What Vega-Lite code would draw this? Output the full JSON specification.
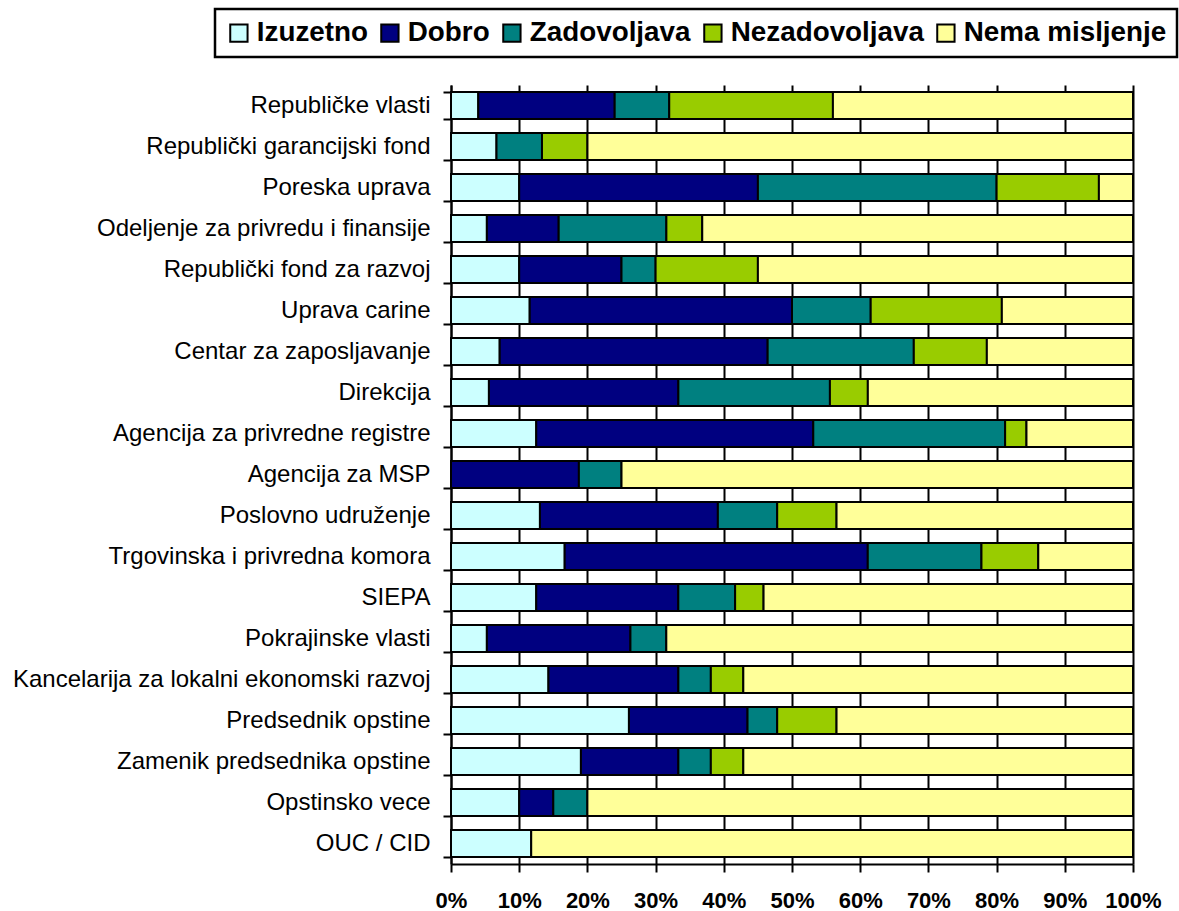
{
  "$schema": "https://vega.github.io/schema/vega-lite/v6.json",
  "autosize": {"type": "none"},
  "width": 682,
  "height": 779,
  "padding": {"left": 451, "top": 85, "right": 46, "bottom": 47},
  "background": "white",
  "datasets": {
    "ord": [
      {"r": "Izuzetno", "k": 1},
      {"r": "Dobro", "k": 2},
      {"r": "Zadovoljava", "k": 3},
      {"r": "Nezadovoljava", "k": 4},
      {"r": "Nema misljenje", "k": 5}
    ]
  },
  "data": {
    "values": [
      {"n": "Republičke vlasti", "Izuzetno": 4, "Dobro": 20, "Zadovoljava": 8, "Nezadovoljava": 24, "Nema misljenje": 44},
      {"n": "Republički garancijski fond", "Izuzetno": 6.67, "Dobro": 0, "Zadovoljava": 6.67, "Nezadovoljava": 6.67, "Nema misljenje": 80},
      {"n": "Poreska uprava", "Izuzetno": 10, "Dobro": 35, "Zadovoljava": 35, "Nezadovoljava": 15, "Nema misljenje": 5},
      {"n": "Odeljenje za privredu i finansije", "Izuzetno": 5.26, "Dobro": 10.53, "Zadovoljava": 15.79, "Nezadovoljava": 5.26, "Nema misljenje": 63.16},
      {"n": "Republički fond za razvoj", "Izuzetno": 10, "Dobro": 15, "Zadovoljava": 5, "Nezadovoljava": 15, "Nema misljenje": 55},
      {"n": "Uprava carine", "Izuzetno": 11.54, "Dobro": 38.46, "Zadovoljava": 11.54, "Nezadovoljava": 19.23, "Nema misljenje": 19.23},
      {"n": "Centar za zaposljavanje", "Izuzetno": 7.14, "Dobro": 39.29, "Zadovoljava": 21.43, "Nezadovoljava": 10.71, "Nema misljenje": 21.43},
      {"n": "Direkcija", "Izuzetno": 5.56, "Dobro": 27.78, "Zadovoljava": 22.22, "Nezadovoljava": 5.56, "Nema misljenje": 38.88},
      {"n": "Agencija za privredne registre", "Izuzetno": 12.5, "Dobro": 40.62, "Zadovoljava": 28.13, "Nezadovoljava": 3.13, "Nema misljenje": 15.62},
      {"n": "Agencija za MSP", "Izuzetno": 0, "Dobro": 18.75, "Zadovoljava": 6.25, "Nezadovoljava": 0, "Nema misljenje": 75},
      {"n": "Poslovno udruženje", "Izuzetno": 13.04, "Dobro": 26.09, "Zadovoljava": 8.7, "Nezadovoljava": 8.7, "Nema misljenje": 43.47},
      {"n": "Trgovinska i privredna komora", "Izuzetno": 16.67, "Dobro": 44.44, "Zadovoljava": 16.67, "Nezadovoljava": 8.33, "Nema misljenje": 13.89},
      {"n": "SIEPA", "Izuzetno": 12.5, "Dobro": 20.83, "Zadovoljava": 8.33, "Nezadovoljava": 4.17, "Nema misljenje": 54.17},
      {"n": "Pokrajinske vlasti", "Izuzetno": 5.26, "Dobro": 21.05, "Zadovoljava": 5.26, "Nezadovoljava": 0, "Nema misljenje": 68.43},
      {"n": "Kancelarija za lokalni ekonomski razvoj", "Izuzetno": 14.29, "Dobro": 19.05, "Zadovoljava": 4.76, "Nezadovoljava": 4.76, "Nema misljenje": 57.14},
      {"n": "Predsednik opstine", "Izuzetno": 26.09, "Dobro": 17.39, "Zadovoljava": 4.35, "Nezadovoljava": 8.7, "Nema misljenje": 43.47},
      {"n": "Zamenik predsednika opstine", "Izuzetno": 19.05, "Dobro": 14.29, "Zadovoljava": 4.76, "Nezadovoljava": 4.76, "Nema misljenje": 57.14},
      {"n": "Opstinsko vece", "Izuzetno": 10, "Dobro": 5, "Zadovoljava": 5, "Nezadovoljava": 0, "Nema misljenje": 80},
      {"n": "OUC / CID", "Izuzetno": 11.76, "Dobro": 0, "Zadovoljava": 0, "Nezadovoljava": 0, "Nema misljenje": 88.24}
    ]
  },
  "transform": [
    {"fold": ["Izuzetno", "Dobro", "Zadovoljava", "Nezadovoljava", "Nema misljenje"], "as": ["r", "v"]},
    {"filter": "datum.v > 0"},
    {"lookup": "r", "from": {"data": {"name": "ord"}, "key": "r", "fields": ["k"]}}
  ],
  "mark": {"type": "bar", "stroke": "black", "strokeWidth": 2, "strokeJoin": "miter"},
  "encoding": {
    "y": {
      "field": "n",
      "type": "nominal",
      "sort": null,
      "scale": {"paddingInner": 0.34, "paddingOuter": 0.17},
      "axis": {
        "title": null,
        "tickBand": "extent",
        "tickSize": 8,
        "tickWidth": 2,
        "tickColor": "black",
        "domainColor": "black",
        "domainWidth": 2,
        "labelFont": "Liberation Sans",
        "labelFontSize": 24,
        "labelColor": "black",
        "labelPadding": 13,
        "labelLimit": 500,
        "grid": false
      }
    },
    "x": {
      "field": "v",
      "type": "quantitative",
      "stack": "zero",
      "scale": {"domain": [0, 100], "nice": false, "clamp": true},
      "axis": {
        "title": null,
        "values": [0, 10, 20, 30, 40, 50, 60, 70, 80, 90, 100],
        "labelExpr": "datum.value + '%'",
        "grid": true,
        "gridColor": "black",
        "gridWidth": 2,
        "gridOpacity": 1,
        "tickSize": 8,
        "tickWidth": 2,
        "tickColor": "black",
        "domainColor": "black",
        "domainWidth": 2,
        "labelFont": "Liberation Sans",
        "labelFontSize": 22,
        "labelFontWeight": "bold",
        "labelColor": "black",
        "labelPadding": 18,
        "labelFlush": false,
        "labelOverlap": false
      }
    },
    "order": {"field": "k", "type": "quantitative", "sort": "ascending"},
    "color": {
      "field": "r",
      "type": "nominal",
      "scale": {
        "domain": ["Izuzetno", "Dobro", "Zadovoljava", "Nezadovoljava", "Nema misljenje"],
        "range": ["#CCFFFF", "#000080", "#008080", "#99CC00", "#FFFF99"]
      },
      "legend": {
        "title": null,
        "orient": "none",
        "legendX": -236,
        "legendY": -76,
        "direction": "horizontal",
        "columns": 5,
        "padding": 10,
        "strokeColor": "black",
        "symbolType": "square",
        "symbolSize": 300,
        "symbolStrokeColor": "black",
        "symbolStrokeWidth": 2,
        "symbolOpacity": 1,
        "labelFont": "Liberation Sans",
        "labelFontSize": 27.8,
        "labelFontWeight": "bold",
        "labelColor": "black",
        "labelOffset": 4,
        "labelLimit": 400,
        "columnPadding": 8,
        "encode": {"legend": {"update": {"strokeWidth": {"value": 2.5}}}}
      }
    }
  },
  "config": {"view": {"stroke": null}}
}
